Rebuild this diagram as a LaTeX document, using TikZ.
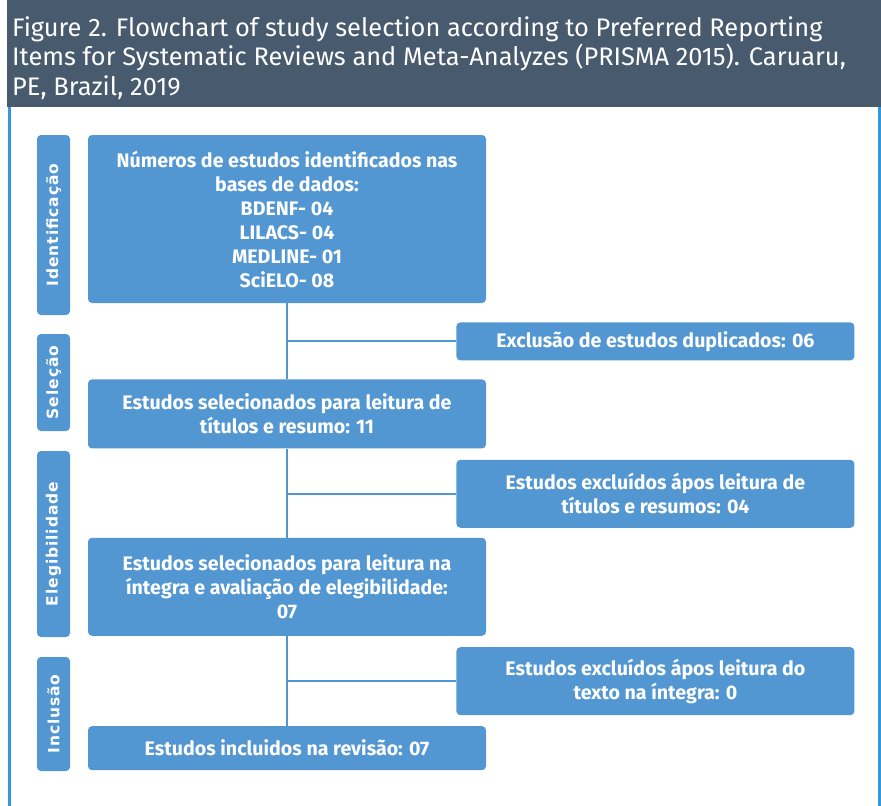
\documentclass[tikz,border=0pt]{standalone}
\usepackage{fontspec}
\setmainfont{Fira Sans}
\newfontfamily\sidefont[LetterSpace=6]{DejaVu Sans}
\usetikzlibrary{positioning}

\definecolor{boxblue}{HTML}{5397D2}
\definecolor{headgray}{HTML}{475A6E}
\definecolor{frameblue}{HTML}{3398DB}

\begin{document}
\begin{tikzpicture}[x=1pt,y=-1pt,node distance=20pt,
  mainbox/.style={rectangle,rounded corners=4pt,fill=boxblue,text=white,
    font=\fontsize{19.6}{24}\selectfont\bfseries,align=center,minimum width=398pt,inner sep=0pt},
  sidebox/.style={rectangle,rounded corners=4pt,fill=boxblue,text=white,
    font=\sidefont\fontsize{15.5}{16}\selectfont\bfseries,rotate=90,minimum height=33pt,inner sep=0pt},
  link/.style={draw=boxblue,line width=2pt}]

\useasboundingbox (0,0) rectangle (881,806);

% header band and frame
\fill[headgray] (7,0) rectangle (881,107);
\node[anchor=north west,text=white,align=left,inner sep=0pt,
  font=\fontsize{25.4}{29.5}\selectfont] (title) at (12,16)
  {Figure 2. Flowchart of study selection according to Preferred Reporting\\
   Items for Systematic Reviews and Meta-Analyzes (PRISMA 2015). Caruaru,\\
   PE, Brazil, 2019};
\draw[frameblue,line width=3pt] (9,107) -- (9,806);
\draw[frameblue,line width=3pt] (879.5,107) -- (879.5,806);

% main column
\node[mainbox,minimum height=168pt] (ident) at (287,219)
  {Números de estudos identificados nas\\bases de dados:\\BDENF- 04\\LILACS- 04\\MEDLINE- 01\\SciELO- 08};
\node[mainbox,minimum height=69pt,below=76pt of ident] (sel)
  {Estudos selecionados para leitura de\\títulos e resumo: 11};
\node[mainbox,minimum height=98pt,below=89pt of sel] (elig)
  {Estudos selecionados para leitura na\\íntegra e avaliação de elegibilidade:\\07};
\node[mainbox,minimum height=44pt,below=90pt of elig] (incl)
  {Estudos incluidos na revisão: 07};

% exclusions
\node[mainbox,minimum height=38pt,below right=19pt and -30pt of ident] (dup)
  {Exclusão de estudos duplicados: 06};
\node[mainbox,minimum height=68pt,below right=11pt and -30pt of sel] (exctit)
  {Estudos excluídos ápos leitura de\\títulos e resumos: 04};
\node[mainbox,minimum height=68pt,below right=11pt and -30pt of elig] (exctxt)
  {Estudos excluídos ápos leitura do\\texto na íntegra: 0};

% phase labels
\node[sidebox,minimum width=180pt] (phident) at (53.5,225) {Identificação};
\node[sidebox,minimum width=97pt] (phsel) at (53.5,382.5) {Seleção};
\node[sidebox,minimum width=186pt] (phelig) at (53.5,544) {Elegibilidade};
\node[sidebox,minimum width=114pt] (phincl) at (53.5,714) {Inclusão};

% connectors
\draw[link] (ident.south) -- (sel.north);
\draw[link] (sel.south) -- (elig.north);
\draw[link] (elig.south) -- (incl.north);
\draw[link] (dup.west) -- (dup.west -| ident.south);
\draw[link] (exctit.west) -- (exctit.west -| sel.south);
\draw[link] (exctxt.west) -- (exctxt.west -| elig.south);

\end{tikzpicture}
\end{document}
